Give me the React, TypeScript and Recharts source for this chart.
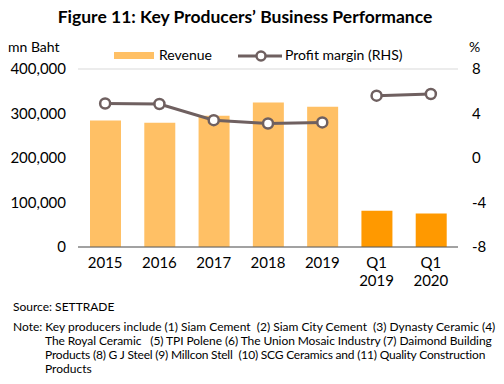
import React from 'react';
import { ComposedChart, Bar, Line, XAxis, YAxis, CartesianGrid, Cell } from 'recharts';

const categories = ['2015', '2016', '2017', '2018', '2019', 'Q1 2019', 'Q1 2020'];
const revenue = [284000, 279000, 295000, 325000, 315000, 81500, 75500];
const profitMargin = [4.9, 4.85, 3.4, 3.1, 3.2, 5.6, 5.75];
const isQuarter = [false, false, false, false, false, true, true];
const leftTicks = [0, 100000, 200000, 300000, 400000];
const rightTicks = [-8, -4, 0, 4, 8];

const data = categories.map((c, i) => ({
  name: c,
  revenue: revenue[i],
  marginAnnual: isQuarter[i] ? null : profitMargin[i],
  marginQuarter: isQuarter[i] ? profitMargin[i] : null,
}));

const FONT = 'Lato, "Open Sans", sans-serif';
const BAR_LIGHT = '#FFC065';
const BAR_DARK = '#FF9900';
const LINE = '#6F6060';

const XTick = (props: any) => {
  const { x, y, payload } = props;
  const parts = String(payload.value).split(' ');
  return (
    <text x={x} y={y} textAnchor="middle" fill="#000" fontSize={15} fontFamily={FONT}>
      {parts.map((p, i) => (
        <tspan key={i} x={x} dy={i === 0 ? 13 : 18}>{p}</tspan>
      ))}
    </text>
  );
};

const fmt = (v: number) => v.toLocaleString('en-US');

export default function App() {
  return (
    <div style={{ position: 'absolute', left: 0, top: 0, width: 504, height: 384, background: '#fff', fontFamily: FONT, overflow: 'hidden' }}>
      <div style={{ position: 'absolute', left: 0, width: 504, top: 6, textAlign: 'center', fontWeight: 'bold', fontSize: 17.5, color: '#000', paddingRight: 14 , boxSizing: 'border-box'}}>
        Figure 11: Key Producers’ Business Performance
      </div>
      <div style={{ position: 'absolute', left: 8, top: 38, fontSize: 14, color: '#000' }}>mn Baht</div>
      <div style={{ position: 'absolute', left: 469, top: 38, fontSize: 14, color: '#000' }}>%</div>
      {/* legend */}
      <div style={{ position: 'absolute', left: 114, top: 52, width: 40, height: 7, background: BAR_LIGHT }} />
      <div style={{ position: 'absolute', left: 159, top: 46, fontSize: 14, color: '#000' }}>Revenue</div>
      <svg style={{ position: 'absolute', left: 236, top: 48 }} width={50} height={16}>
        <line x1={2} y1={8} x2={46} y2={8} stroke={LINE} strokeWidth={3} />
        <circle cx={25} cy={8} r={4.5} fill="#fff" stroke={LINE} strokeWidth={2.5} />
      </svg>
      <div style={{ position: 'absolute', left: 285, top: 46, fontSize: 14, color: '#000' }}>Profit margin (RHS)</div>

      <div style={{ position: 'absolute', left: 0, top: 0 }}>
        <ComposedChart width={504} height={300} data={data} margin={{ top: 69, right: 0, bottom: 0, left: 0 }} barSize={31}>
          <CartesianGrid vertical={false} stroke="#D9D9D9" strokeWidth={1} />
          <XAxis dataKey="name" tick={<XTick />} tickLine={false} axisLine={{ stroke: '#595959', strokeWidth: 1 }} interval={0} height={53} />
          <YAxis yAxisId="left" orientation="left" width={78} domain={[0, 400000]} ticks={leftTicks} tickFormatter={fmt}
            tickLine={false} axisLine={false} tickSize={0} tickMargin={12}
            tick={{ fill: '#000', fontSize: 15, fontFamily: FONT }} />
          <YAxis yAxisId="right" orientation="right" width={46} domain={[-8, 8]} ticks={rightTicks}
            tickLine={false} axisLine={false} tickSize={0} tickMargin={14}
            tick={{ fill: '#000', fontSize: 15, fontFamily: FONT, textAnchor: 'start' }} />
          <Bar yAxisId="left" dataKey="revenue" isAnimationActive={false}>
            {data.map((d, i) => (
              <Cell key={i} fill={isQuarter[i] ? BAR_DARK : BAR_LIGHT} />
            ))}
          </Bar>
          <Line yAxisId="right" dataKey="marginAnnual" stroke={LINE} strokeWidth={3} isAnimationActive={false}
            dot={{ r: 5, fill: '#fff', stroke: LINE, strokeWidth: 2.5 }} connectNulls={false} />
          <Line yAxisId="right" dataKey="marginQuarter" stroke={LINE} strokeWidth={3} isAnimationActive={false}
            dot={{ r: 5, fill: '#fff', stroke: LINE, strokeWidth: 2.5 }} connectNulls={false} />
        </ComposedChart>
      </div>

      <div style={{ position: 'absolute', left: 13, top: 299, fontSize: 12, color: '#000' }}>Source: SETTRADE</div>
      <div style={{ position: 'absolute', left: 13, top: 320, fontSize: 12, lineHeight: '14px', color: '#000', whiteSpace: 'nowrap' }}>
        <div>Note: Key producers include (1) Siam Cement&nbsp; (2) Siam City Cement&nbsp; (3) Dynasty Ceramic (4)</div>
        <div style={{ paddingLeft: 32, letterSpacing: -0.08 }}>The Royal Ceramic&nbsp;&nbsp; (5) TPI Polene (6) The Union Mosaic Industry (7) Daimond Building</div>
        <div style={{ paddingLeft: 32, letterSpacing: -0.2 }}>Products (8) G J Steel (9) Millcon Stell&nbsp; (10) SCG Ceramics and (11) Quality Construction</div>
        <div style={{ paddingLeft: 32 }}>Products</div>
      </div>
    </div>
  );
}
